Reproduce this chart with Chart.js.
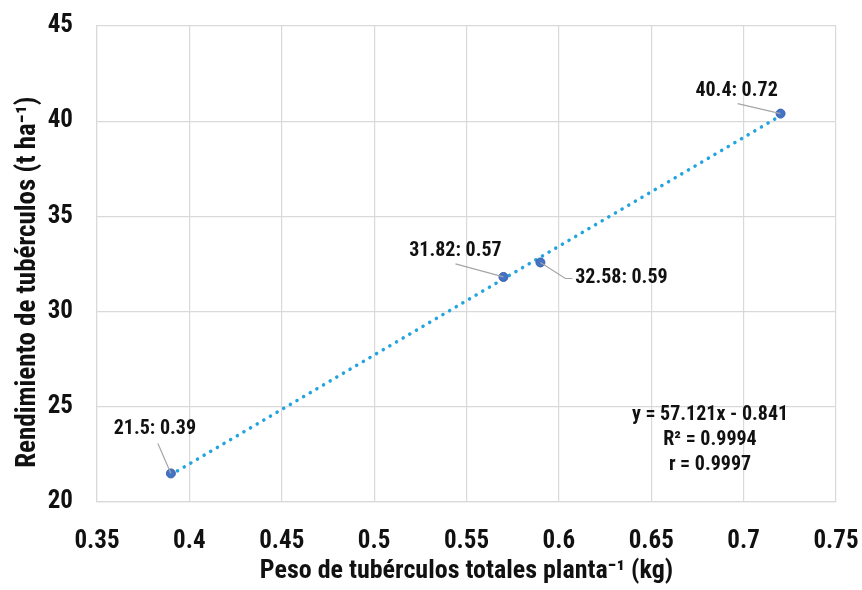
<!DOCTYPE html><html lang="es">
<head>
<meta charset="utf-8"/>
<title>Rendimiento vs peso de tubérculos</title>
<script src="https://cdn.jsdelivr.net/npm/chart.js"></script>
<style>
  body{margin:0;background:#fff}
  canvas{display:block}
</style>
</head>
<body>
<canvas id="chart" width="862" height="590"></canvas>
<script>
// -------- datos --------
const pesoX = [0.39, 0.57, 0.59, 0.72];          // kg por planta
const rendY = [21.5, 31.82, 32.58, 40.4];        // t/ha
const pointLabels = ['21.5: 0.39', '31.82: 0.57', '32.58: 0.59', '40.4: 0.72'];
const trendX = [0.39, 0.72];                     // línea de tendencia (extremos)
const trendY = [21.43, 40.29];
const equationLines = ['y = 57.121x - 0.841', 'R² = 0.9994', 'r = 0.9997'];
const xTitle = 'Peso de tubérculos totales planta⁻¹ (kg)';
const yTitle = 'Rendimiento de tubérculos (t ha⁻¹)\u2002\u2002\u2002'; // espacios: baja el título como en el original

const FONT = '"Roboto Condensed", "Liberation Sans", sans-serif';

// posición de cada etiqueta respecto a su punto: centro del texto y arranque de la guía
const labelPos = [
  {dx: -16, dy: -44, lx: -13, ly: -30},
  {dx: -48, dy: -26, lx: -48, ly: -13},
  {dx:  81, dy:  16, lx:  25, ly:  16, hook: 32},
  {dx: -44, dy: -23, lx: -43, ly: -10}
];

const labelPlugin = {
  id: 'pointLabels',
  afterDatasetsDraw(chart){
    const ctx = chart.ctx;
    const meta = chart.getDatasetMeta(1);
    ctx.save();
    meta.data.forEach((pt, i) => {
      const p = labelPos[i];
      ctx.strokeStyle = '#a6a6a6';
      ctx.lineWidth = 1.2;
      ctx.beginPath();
      ctx.moveTo(pt.x, pt.y);
      ctx.lineTo(pt.x + p.lx, pt.y + p.ly);
      if (p.hook) ctx.lineTo(pt.x + p.hook, pt.y + p.ly);
      ctx.stroke();
      ctx.fillStyle = '#111';
      ctx.font = 'bold 20px ' + FONT;
      ctx.textAlign = 'center';
      ctx.textBaseline = 'middle';
      ctx.fillText(pointLabels[i], pt.x + p.dx, pt.y + p.dy);
    });
    // ecuación
    const a = chart.chartArea;
    equationLines.forEach((t, k) => {
      ctx.fillText(t, a.right - 126, a.bottom - 87 + k * 25);
    });
    ctx.restore();
  }
};

new Chart(document.getElementById('chart'), {
  type: 'scatter',
  data: {
    datasets: [
      {
        label: 'Tendencia',
        data: trendX.map((x, i) => ({x, y: trendY[i]})),
        showLine: true,
        borderColor: '#22a4de',
        borderWidth: 3.5,
        borderDash: [0.1, 7.6],
        borderCapStyle: 'round',
        pointRadius: 0,
        order: 2
      },
      {
        label: 'Datos',
        data: pesoX.map((x, i) => ({x, y: rendY[i]})),
        backgroundColor: '#4472c4',
        borderColor: '#3a62ad',
        borderWidth: 1,
        pointRadius: 4.5,
        order: 1
      }
    ]
  },
  options: {
    responsive: false,
    animation: false,
    layout: {padding: {top: 26, right: 26, left: 0, bottom: 0}},
    plugins: {legend: {display: false}, tooltip: {enabled: false}},
    scales: {
      x: {
        type: 'linear', min: 0.35, max: 0.75,
        afterFit: s => { s.height = 88; s.paddingLeft = 0; s.paddingRight = 0; },
        grid: {color: '#d9d9d9', drawTicks: false, lineWidth: 1.2},
        border: {color: '#d9d9d9', width: 1.2},
        ticks: {
          stepSize: 0.05, padding: 25, color: '#111',
          font: {family: FONT, size: 25, weight: 'bold'},
          callback: v => String(+v.toFixed(2))
        },
        title: {display: true, text: xTitle, color: '#111', padding: {top: 0, bottom: 3},
          font: {family: FONT, size: 26, weight: 'bold'}}
      },
      y: {
        type: 'linear', min: 20, max: 45,
        afterFit: s => { s.width = 97; s.paddingTop = 0; s.paddingBottom = 0; },
        grid: {color: '#d9d9d9', drawTicks: false, lineWidth: 1.2},
        border: {color: '#d9d9d9', width: 1.2},
        ticks: {
          stepSize: 5, padding: 24, color: '#111',
          font: {family: FONT, size: 25, weight: 'bold'}
        },
        title: {display: true, text: yTitle, color: '#111', padding: {top: 12, bottom: 0},
          font: {family: FONT, size: 27, weight: 'bold'}}
      }
    }
  },
  plugins: [labelPlugin]
});
</script>
</body>
</html>
